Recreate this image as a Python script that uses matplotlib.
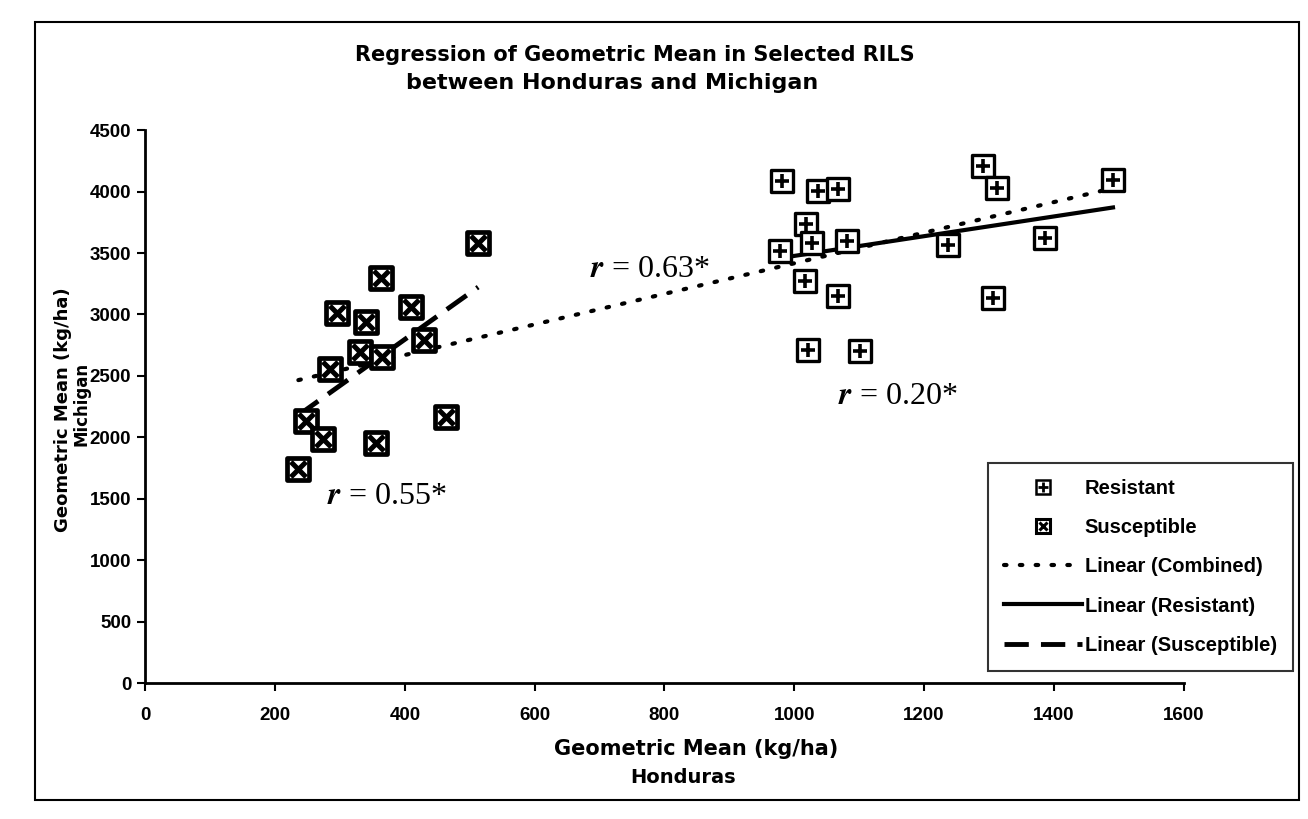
import numpy as np
import matplotlib.pyplot as plt
from matplotlib.lines import Line2D
from matplotlib.patches import Rectangle
from matplotlib.legend_handler import HandlerTuple

plt.rcParams['font.family'] = ['Liberation Sans', 'DejaVu Sans']
plt.rcParams['font.weight'] = 'bold'
plt.rcParams['mathtext.fontset'] = 'stix'

# geometric mean yields (kg/ha) of the selected RILs
# x = Honduras, y = Michigan
res_hon = [981, 1036, 1067, 1018, 978, 1027, 1081, 1237, 1290, 1312, 1491,
           1386, 1016, 1067, 1306, 1021, 1101]
res_mich = [4090, 4008, 4025, 3738, 3517, 3583, 3599, 3566, 4205, 4033, 4098,
            3624, 3272, 3149, 3133, 2708, 2699]
sus_hon = [513, 363, 296, 340, 410, 430, 331, 365, 285, 248, 274, 356, 464, 236]
sus_mich = [3583, 3297, 3010, 2937, 3059, 2789, 2691, 2658, 2560, 2135, 1988,
            1955, 2168, 1742]

r_labels = ['$r$ = 0.63*', '$r$ = 0.20*', '$r$ = 0.55*']

xticks = list(range(0, 1601, 200))
yticks = list(range(0, 4501, 500))


def trend(x, y):
    # straight-line fit drawn over the range of the data
    x = np.asarray(x, float)
    y = np.asarray(y, float)
    m, b = np.polyfit(x, y, 1)
    xs = np.array([x.min(), x.max()])
    return xs, m * xs + b


fig = plt.figure(figsize=(13.08, 8.19), dpi=100)
ax = fig.add_axes([0.111, 0.166, 0.794, 0.675])

# frame round the whole chart
fig.patches.append(Rectangle((0.027, 0.023), 0.966, 0.95, transform=fig.transFigure,
                             fill=False, edgecolor='black', linewidth=1.5))

# markers: box with cross (resistant) / box with x (susceptible)
ax.scatter(res_hon, res_mich, marker='s', s=260, facecolor='white',
           edgecolor='black', linewidths=2.4, zorder=3)
ax.scatter(res_hon, res_mich, marker='+', s=110, color='black',
           linewidths=2.6, zorder=4)
ax.scatter(sus_hon, sus_mich, marker='s', s=270, facecolor='white',
           edgecolor='black', linewidths=3.4, zorder=3)
ax.scatter(sus_hon, sus_mich, marker='x', s=120, color='black',
           linewidths=3.6, zorder=4)

# trendlines
all_hon = res_hon + sus_hon
all_mich = res_mich + sus_mich
dots = (0, (0.6, 3.2))
dashes = (0, (5, 2.5))
xc, yc = trend(all_hon, all_mich)
ax.plot(xc, yc, color='black', lw=3, linestyle=dots,
        dash_capstyle='round', zorder=2)
xr, yr = trend(res_hon, res_mich)
ax.plot(xr, yr, color='black', lw=3, zorder=2)
xs_, ys_ = trend(sus_hon, sus_mich)
ax.plot(xs_, ys_, color='black', lw=3.5, linestyle=dashes, zorder=2)

ax.set_xlim(0, 1600)
ax.set_ylim(0, 4500)
ax.set_xticks(xticks)
ax.set_yticks(yticks)
ax.tick_params(direction='out', length=6, width=1.5, labelsize=13.5)
ax.tick_params(axis='x', pad=11)
ax.tick_params(axis='y', pad=4)
for s in ['top', 'right']:
    ax.spines[s].set_visible(False)
for s in ['left', 'bottom']:
    ax.spines[s].set_linewidth(2)

# correlation coefficients
serif = ['Liberation Serif', 'DejaVu Serif']
for (x, y), lab in zip([(778, 3370), (1160, 2330), (372, 1520)], r_labels):
    ax.text(x, y, lab, family=serif, fontweight='normal', fontsize=23,
            ha='center', va='center')

heavy = ['DejaVu Sans']
fig.text(0.485, 0.933, 'Regression of Geometric Mean in Selected RILS',
         ha='center', va='center', fontsize=15, family=heavy, fontweight='bold')
fig.text(0.468, 0.899, 'between Honduras and Michigan',
         ha='center', va='center', fontsize=16, family=heavy, fontweight='bold')

fig.text(0.532, 0.085, 'Geometric Mean (kg/ha)', ha='center', va='center',
         fontsize=15, family=heavy, fontweight='bold')
fig.text(0.522, 0.051, 'Honduras', ha='center', va='center',
         fontsize=14, family=heavy, fontweight='bold')
fig.text(0.048, 0.50, 'Geometric Mean (kg/ha)', ha='center', va='center',
         fontsize=13, family=heavy, fontweight='bold', rotation=90)
fig.text(0.062, 0.507, 'Michigan', ha='center', va='center',
         fontsize=12, family=heavy, fontweight='bold', rotation=90)

res_h = (Line2D([], [], marker='s', ls='', ms=10, mfc='white', mec='black', mew=1.8),
         Line2D([], [], marker='+', ls='', ms=7, color='black', mew=2))
sus_h = (Line2D([], [], marker='s', ls='', ms=10, mfc='white', mec='black', mew=2.2),
         Line2D([], [], marker='x', ls='', ms=6, color='black', mew=2.2))
comb_h = Line2D([], [], color='black', lw=3, linestyle=dots, dash_capstyle='round')
resl_h = Line2D([], [], color='black', lw=3)
susl_h = Line2D([], [], color='black', lw=3.5, linestyle=dashes)

leg = fig.legend([res_h, sus_h, comb_h, resl_h, susl_h],
                 ['Resistant', 'Susceptible', 'Linear (Combined)',
                  'Linear (Resistant)', 'Linear (Susceptible)'],
                 handler_map={tuple: HandlerTuple(ndivide=1, pad=0)},
                 loc='upper left', bbox_to_anchor=(0.7554, 0.4347),
                 fontsize=14.5, frameon=True, fancybox=False, edgecolor='black',
                 handlelength=3.85, labelspacing=1.0, borderpad=0.8,
                 handletextpad=0.15, borderaxespad=0)
leg.get_frame().set_linewidth(1.5)

fig.savefig('out.png', dpi=100)
